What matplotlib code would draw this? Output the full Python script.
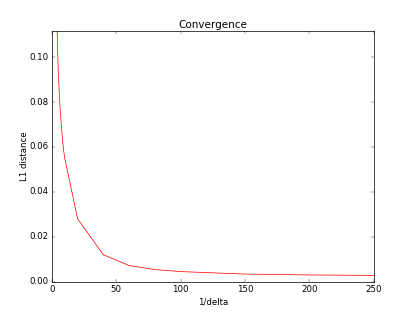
"""Convergence of the L1 distance as 1/delta grows."""

import matplotlib

matplotlib.use("Agg")
import matplotlib.pyplot as plt

inv_delta = [1, 2, 3, 4, 5, 6, 7, 8, 9, 10, 20, 40, 60, 80, 100, 150, 200, 250]
l1_dist = [0.40, 0.21, 0.14, 0.113, 0.093, 0.081, 0.072, 0.065, 0.059, 0.055,
           0.028, 0.012, 0.0072, 0.0054, 0.0045, 0.0034, 0.0030, 0.0028]


def main() -> None:
    plt.style.use("classic")
    fig = plt.figure(figsize=(8, 6.035), dpi=51.875)
    ax = fig.add_subplot(111)
    ax.plot(inv_delta, l1_dist, color="red")
    ax.set_xlim(0, 250)
    ax.set_ylim(0, 0.1115)
    ax.set_yticks([0.0, 0.02, 0.04, 0.06, 0.08, 0.10])
    ax.set_title("Convergence")
    ax.set_xlabel("1/delta")
    ax.set_ylabel("L1 distance", labelpad=1)
    fig.savefig("out.png", dpi=51.875, facecolor="white")
    plt.close(fig)


if __name__ == "__main__":
    main()
